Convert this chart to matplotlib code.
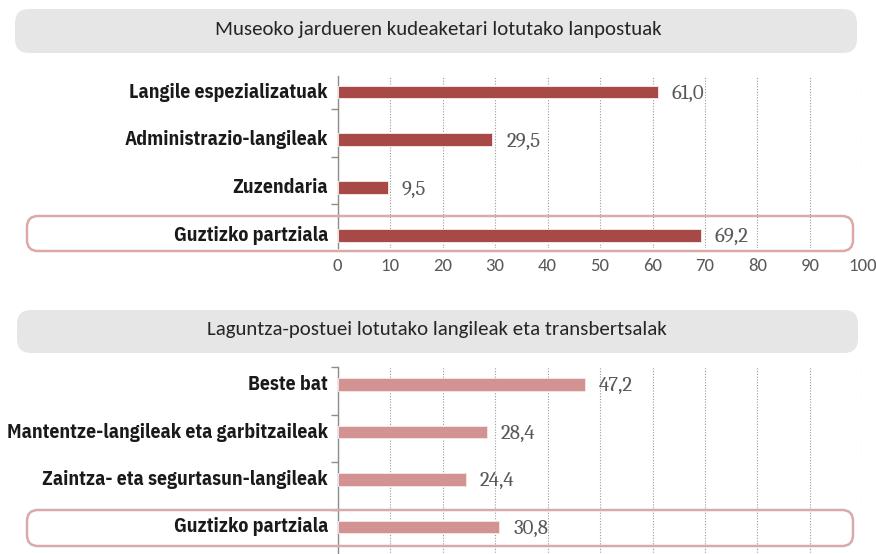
import matplotlib
matplotlib.use("Agg")
import matplotlib.pyplot as plt
from matplotlib.patches import FancyBboxPatch

# ---- data -------------------------------------------------------------
title_top = "Museoko jardueren kudeaketari lotutako lanpostuak"
cats_top = ["Langile espezializatuak", "Administrazio-langileak",
            "Zuzendaria", "Guztizko partziala"]
vals_top = [61.0, 29.5, 9.5, 69.2]

title_bot = "Laguntza-postuei lotutako langileak eta transbertsalak"
cats_bot = ["Beste bat", "Mantentze-langileak eta garbitzaileak",
            "Zaintza- eta segurtasun-langileak", "Guztizko partziala"]
vals_bot = [47.2, 28.4, 24.4, 30.8]

xticks = [0, 10, 20, 30, 40, 50, 60, 70, 80, 90, 100]

# ---- styling ------------------------------------------------------------
W, H = 876, 554
DPI = 100
col_top = "#a84847"
col_bot = "#d39393"
box_grey = "#e6e6e7"
hl_edge = "#dba9a9"
txt_grey = "#595959"

NARROW = ["IBM Plex Sans Condensed", "Fira Sans Condensed", "DejaVu Sans"]
SANS = ["Carlito", "Lato", "DejaVu Sans"]
SERIF = ["Caladea", "DejaVu Serif"]

fig = plt.figure(figsize=(W / DPI, H / DPI), dpi=DPI)
fig.patch.set_facecolor("white")

# pixel-space overlay for the decorative boxes
bg = fig.add_axes([0, 0, 1, 1], zorder=0)
bg.set_xlim(0, W)
bg.set_ylim(H, 0)
bg.axis("off")


def rounded(ax, x0, y0, x1, y1, r, **kw):
    p = FancyBboxPatch((x0 + r, y0 + r), (x1 - x0) - 2 * r, (y1 - y0) - 2 * r,
                       boxstyle=f"round,pad={r}", **kw)
    ax.add_patch(p)


# title bars
rounded(bg, 15, 9, 857, 53, 14, facecolor=box_grey, edgecolor="none")
bg.text(438, 29, title_top, ha="center", va="center", fontsize=15,
        family=SANS, color="#262626")
rounded(bg, 17, 310, 858, 353, 14, facecolor=box_grey, edgecolor="none")
bg.text(437, 330, title_bot, ha="center", va="center", fontsize=15,
        family=SANS, color="#262626")

PX_L, PX_R = 337.7, 862.4


def panel(top_px, bot_px, row0_px, step_px, cats, vals, color, tick_off,
          show_xlabels):
    ax = fig.add_axes([PX_L / W, 1 - bot_px / H, (PX_R - PX_L) / W,
                       (bot_px - top_px) / H], zorder=2)
    ax.patch.set_alpha(0)
    y_top = (top_px - row0_px) / step_px
    y_bot = (bot_px - row0_px) / step_px
    pos = list(range(len(cats)))
    ax.barh(pos, vals, height=0.27, color=color, edgecolor="#f3e3e3",
            linewidth=0.7, zorder=3)
    ax.set_xlim(0, 100)
    ax.set_ylim(y_bot, y_top)
    ax.set_xticks(xticks)
    ax.xaxis.grid(True, linestyle=(0, (1, 1.5)), color="#9a9a9a",
                  linewidth=0.8, zorder=1)
    ax.set_axisbelow(True)
    for s in ("top", "right", "bottom"):
        ax.spines[s].set_visible(False)
    ax.spines["left"].set_color("#8c8c8c")
    ax.spines["left"].set_linewidth(1.0)
    ax.tick_params(axis="x", length=0, pad=7, labelsize=13.5,
                   labelcolor=txt_grey)
    for t in ax.get_xticklabels():
        t.set_family(SANS)
    if not show_xlabels:
        ax.tick_params(axis="x", labelbottom=False)
    # small separators on the category axis
    ax.set_yticks([p + tick_off for p in pos if y_top <= p + tick_off <= y_bot])
    ax.set_yticklabels([])
    ax.tick_params(axis="y", length=5, width=1.0, color="#8c8c8c")
    # category labels and value labels
    for p, c, v in zip(pos, cats, vals):
        ax.annotate(c, xy=(0, p), xytext=(-7, 0), textcoords="offset points",
                    ha="right", va="center", fontsize=14.2, fontweight="bold",
                    family=NARROW, color="#1a1a1a", annotation_clip=False)
        ax.annotate(f"{v:.1f}".replace(".", ","), xy=(v, p), xytext=(10, -1),
                    textcoords="offset points", ha="left", va="center",
                    fontsize=15, family=SERIF, color=txt_grey)
    return ax


panel(76, 248, 92, 47.8, cats_top, vals_top, col_top, 0.35, True)
panel(367, 560, 384.5, 47.5, cats_bot, vals_bot, col_bot, -0.36, False)

# highlighted "Guztizko partziala" rows
rounded(bg, 27, 216, 853, 251, 11, facecolor="none", edgecolor=hl_edge,
        linewidth=1.8)
rounded(bg, 27, 510, 853, 546, 11, facecolor="none", edgecolor=hl_edge,
        linewidth=1.8)
bg.set_zorder(3)
bg.patch.set_alpha(0)

fig.savefig("out.png", dpi=DPI, facecolor="white")
